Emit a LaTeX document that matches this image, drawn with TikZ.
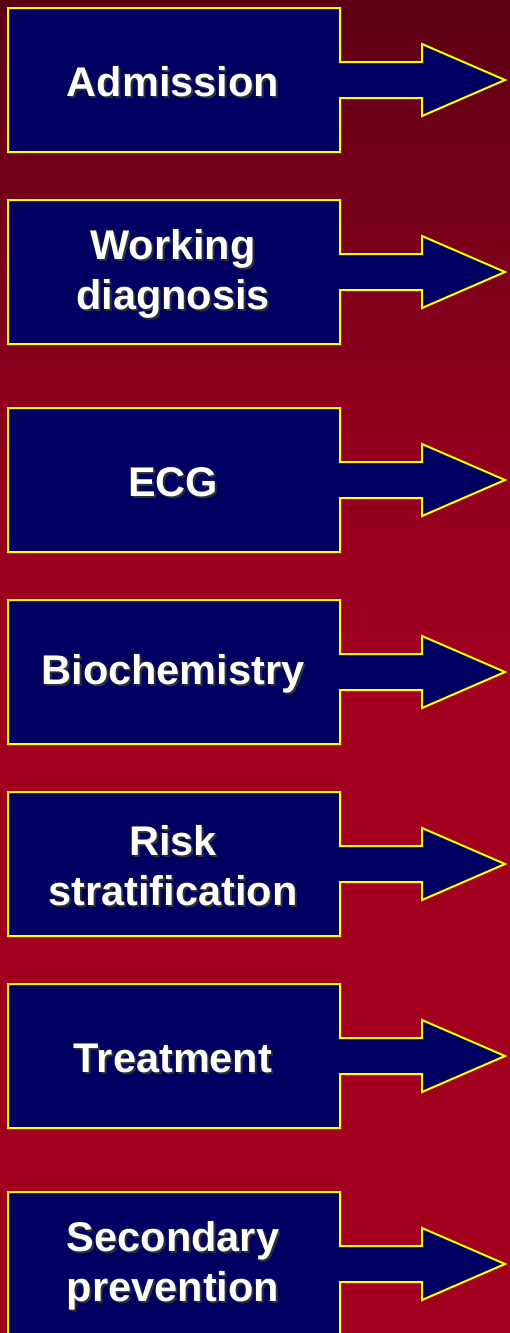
\documentclass[tikz,border=0pt]{standalone}
\usepackage{fontspec}
\setmainfont{Liberation Sans}
\definecolor{bgtop}{HTML}{5C0014}
\definecolor{bgmid}{HTML}{8E001E}
\definecolor{bgbot}{HTML}{A2001F}
\definecolor{boxblue}{HTML}{000062}
\definecolor{edgeyellow}{HTML}{FFFF00}
\definecolor{shadowgray}{HTML}{303030}
\tikzset{
  stepshape/.style={fill=boxblue, draw=edgeyellow, line width=2pt, line join=miter},
  steptext/.style={text=white, font=\bfseries\fontsize{41.5}{50}\selectfont, align=center, inner sep=0pt},
  stepshadow/.style={text=shadowgray, font=\bfseries\fontsize{41.5}{50}\selectfont, align=center, inner sep=0pt},
}
\begin{document}
\begin{tikzpicture}[x=1pt,y=-1pt]
\useasboundingbox (0,0) rectangle (510,1333);
\shade[top color=bgtop, bottom color=bgmid] (0,0) rectangle (510,400);
\shade[top color=bgmid, bottom color=bgbot] (0,400) rectangle (510,700);
\fill[bgbot] (0,699.5) rectangle (510,1333);
\foreach \y/\n/\t in {8/b1/Admission, 200/b2/{Working\\diagnosis}, 408/b3/ECG, 600/b4/Biochemistry, 792/b5/{Risk\\stratification}, 984/b6/Treatment, 1192/b7/{Secondary\\prevention}}{
  \draw[stepshape] (8,\y) -- (340,\y) -- (340,\y+54) -- (422,\y+54) -- (422,\y+36) -- (505,\y+72)
    -- (422,\y+108) -- (422,\y+90) -- (340,\y+90) -- (340,\y+144) -- (8,\y+144) -- cycle;
  \coordinate (\n) at (173,\y+74);
  \node[stepshadow] (\n-s) at ([xshift=2pt,yshift=-2pt]\n) {\t};
  \node[steptext] (\n-t) at (\n) {\t};
}
\end{tikzpicture}
\end{document}
